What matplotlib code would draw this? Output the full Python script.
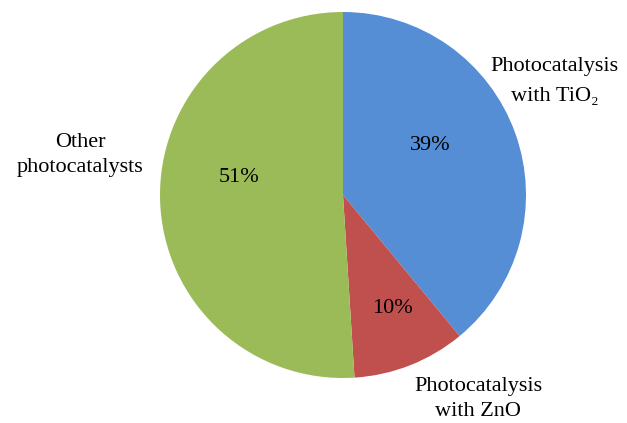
import matplotlib
matplotlib.use("Agg")
import matplotlib.pyplot as plt

labels = ["Photocatalysis\nwith TiO₂", "Photocatalysis\nwith ZnO", "Other\nphotocatalysts"]
values = [39, 10, 51]
pct_labels = ["39%", "10%", "51%"]
colors = ["#558ED5", "#C0504D", "#9BBB59"]

plt.rcParams['font.family'] = ['Liberation Serif', 'DejaVu Serif']

W, H = 627, 423
fig = plt.figure(figsize=(W/100, H/100), dpi=100)
cx, cy, r = 343, 228, 183
ax = fig.add_axes([(cx - r)/W, (cy - r)/H, 2*r/W, 2*r/H])
ax.pie(values, colors=colors, startangle=90, counterclock=False, radius=1,
       wedgeprops=dict(linewidth=0))
ax.set_xlim(-1, 1)
ax.set_ylim(-1, 1)
ax.set_aspect('equal')
ax.axis('off')

pct_pos = [(0.475, 0.273), (0.27, -0.62), (-0.568, 0.093)]
for (x, y), t in zip(pct_pos, pct_labels):
    ax.text(x, y, t, ha='center', va='center', fontsize=16)

lab_pos = [(1.158, 0.62), (0.738, -1.115), (-1.437, 0.22)]
lab_spacing = [1.8, 1.45, 1.45]
for (x, y), t, ls in zip(lab_pos, labels, lab_spacing):
    ax.text(x, y, t, ha='center', va='center', fontsize=16, linespacing=ls,
            clip_on=False)

fig.savefig("out.png", dpi=100, facecolor='white')
